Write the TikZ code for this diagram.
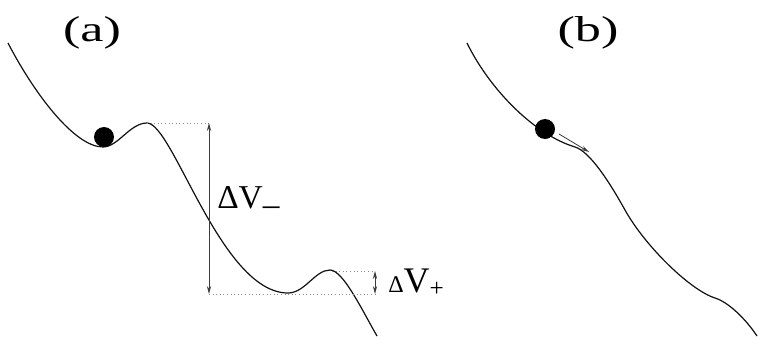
\documentclass[tikz,border=0pt]{standalone}
\usepackage{fontspec}
\setmainfont{Liberation Serif}
\usepackage{xcolor}
\usetikzlibrary{arrows.meta}
\definecolor{LineDark}{HTML}{111111}
\definecolor{GuideGray}{HTML}{8C8C8C}
\definecolor{ArrowGray}{HTML}{3C3C3C}

\begin{document}
\begin{tikzpicture}[x=0.75pt, y=-0.75pt,
      curve/.style={draw=LineDark, line width=0.9pt},
      guide/.style={draw=GuideGray, dotted, line width=0.7pt},
      gap/.style={<->, >={Stealth[length=6pt, width=3.2pt]},
                  draw=ArrowGray, line width=0.6pt},
      push/.style={->, >={Stealth[length=6pt, width=3.2pt]},
                   draw=ArrowGray, line width=0.6pt},
      ball/.style={circle, fill=black, inner sep=0pt, minimum size=15pt},
      lbl/.style={font=\fontsize{27}{32}\selectfont, inner sep=0pt},
    ]
      \useasboundingbox (0,0) rectangle (760,336);
      \node[lbl] (labA) at (92,33) {\scalebox{1.45}[1]{(a)}};
      \node[lbl] (labB) at (588,33) {\scalebox{1.45}[1]{(b)}};
      \draw[curve] (8,43) .. controls (35,95) and (75,147) .. (103,147)
        .. controls (118,147) and (130,123) .. (147,123)
        .. controls (173,123) and (221,293) .. (288,293)
        .. controls (305,293) and (315,270) .. (330,270)
        .. controls (343,270) and (362,310) .. (377,336);
      \draw[curve] (467,43) .. controls (490,90) and (535,135) .. (575,147)
        .. controls (590,151.5) and (610,183) .. (625,210)
        .. controls (645,246) and (690,290) .. (715,298)
        .. controls (728,302) and (745,318) .. (757,336);
      \node[ball] (ballA) at (104,137) {};
      \node[ball] (ballB) at (545,129) {};
      \coordinate (peakL) at (147,123);
      \coordinate (peakR) at (332,271);
      \coordinate (topL) at (209,123);
      \coordinate (botL) at (209,294);
      \coordinate (topR) at (375,271);
      \coordinate (botR) at (375,294);
      \coordinate (slideS) at (559,134);
      \coordinate (slideE) at (589,152);
      \draw[guide] (peakL) -- (topL);
      \draw[guide] (peakR) -- (topR);
      \draw[guide] (botL) -- (botR);
      \draw[gap] (topL) -- (botL);
      \draw[gap] (topR) -- (botR);
      \draw[push] (slideS) -- (slideE);
      \node[lbl, anchor=base west, font=\fontsize{25}{30}\selectfont]
        (dVm) at (217,208) {ΔV\raisebox{-0.22em}{–}};
      \node[lbl, anchor=base west] (dVp) at (388,292)
        {{\fontsize{18}{20}\selectfont Δ}V\textsubscript{+}};
    \end{tikzpicture}
\end{document}
